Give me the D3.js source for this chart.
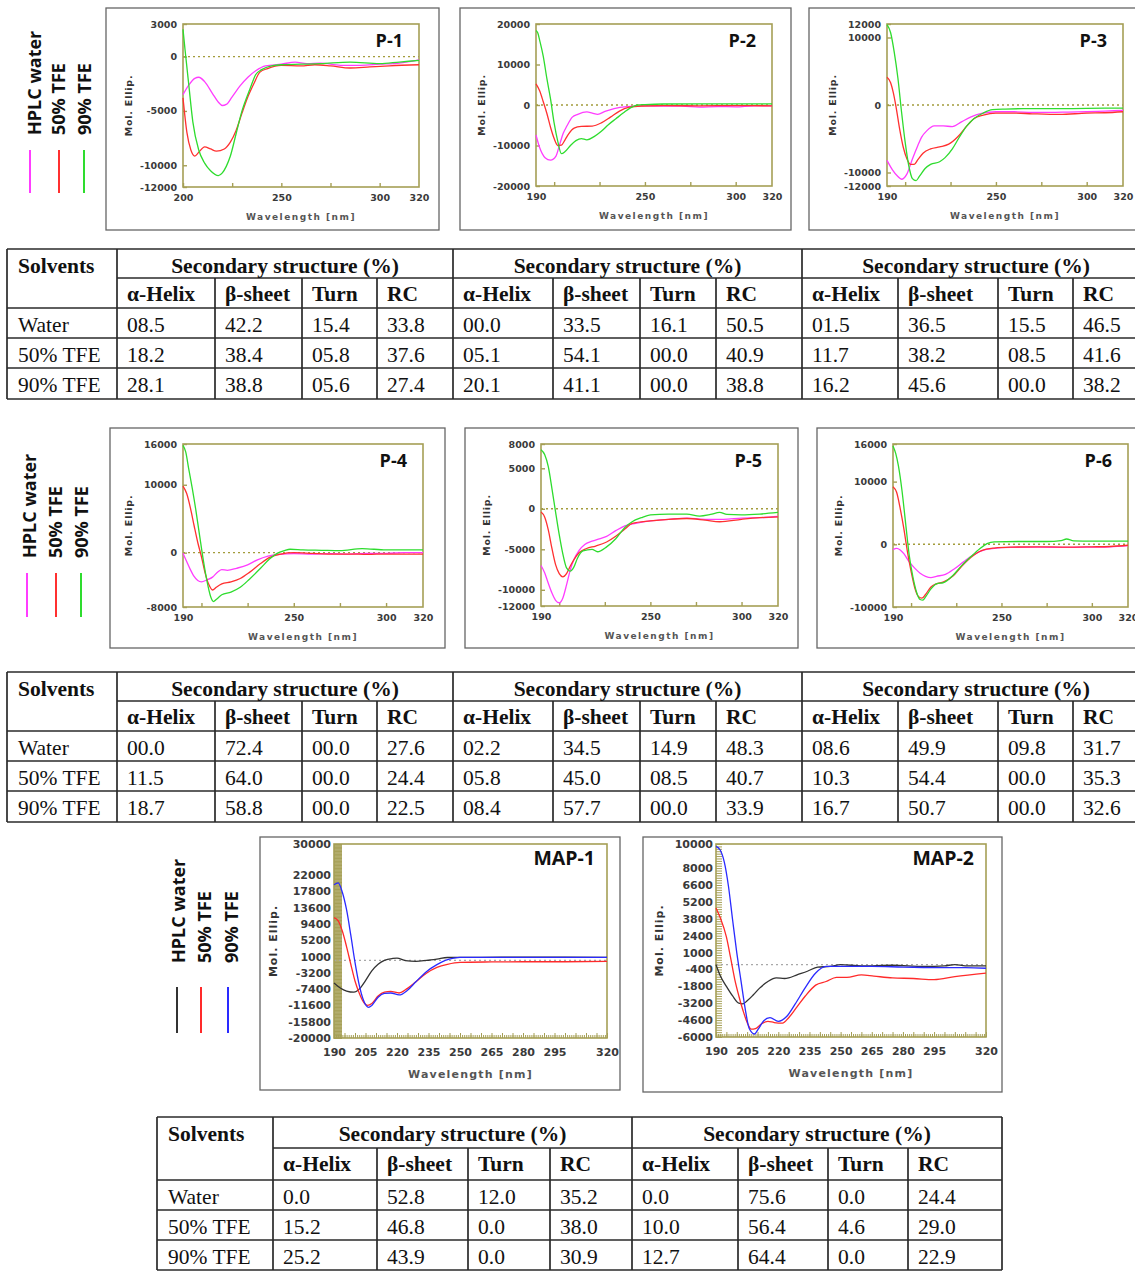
<!DOCTYPE html>
<html>
<head>
<meta charset="utf-8">
<script src="https://cdn.jsdelivr.net/npm/d3@7"></script>
<style>
  body { margin: 0; background: #fff; }
  svg { display: block; }
</style>
</head>
<body>
<script>
// ---- CD spectra, [wavelength nm, mol. ellipticity] ----
const p1Water = [[200,-3500],[203,-2600],[206,-2000],[208,-1900],[211,-2300],[215,-3400],[218,-4200],[220,-4500],[222,-4400],[225,-3700],[229,-2700],[233,-1900],[237,-1300],[242,-850],[250,-700],[257,-500],[263,-650],[270,-600],[280,-800],[290,-800],[300,-700],[310,-600],[320,-300]];
const p1Tfe50 = [[200,-3800],[202,-7000],[204,-8600],[206,-9150],[208,-8800],[211,-8300],[214,-8500],[217,-8700],[221,-8500],[224,-7900],[227,-6800],[230,-5200],[233,-3700],[236,-2500],[239,-1450],[243,-1100],[250,-800],[260,-850],[267,-750],[275,-850],[285,-1050],[295,-950],[305,-850],[320,-750]];
const p1Tfe90 = [[200,2500],[201,700],[203,-2700],[205,-6000],[208,-8600],[211,-9800],[214,-10500],[218,-10950],[220,-10700],[222,-10100],[224,-9200],[227,-7100],[230,-5000],[234,-3000],[237,-1650],[240,-1200],[245,-850],[250,-750],[260,-700],[270,-650],[285,-500],[300,-650],[310,-500],[320,-350]];

const p2Water = [[190,-7400],[192,-10500],[195,-13000],[198,-13600],[201,-12600],[203,-9800],[205,-7000],[207,-5200],[210,-3000],[213,-2300],[218,-1700],[221,-2000],[224,-2300],[228,-1600],[233,-900],[240,-400],[250,-200],[260,-300],[270,-300],[280,-500],[290,-400],[300,-450],[310,-200],[320,-200]];
const p2Tfe50 = [[190,5200],[192,3500],[194,800],[196,-2100],[198,-5500],[200,-8300],[202,-10000],[204,-9900],[206,-8600],[208,-7100],[211,-5700],[215,-5300],[221,-5200],[226,-4400],[231,-3000],[236,-1500],[241,-600],[248,-250],[260,-150],[280,-200],[300,-150],[320,-200]];
const p2Tfe90 = [[190,18400],[191,17800],[192,16000],[194,12000],[196,6500],[198,1500],[200,-4500],[202,-9000],[204,-12000],[206,-11500],[209,-10000],[212,-8800],[215,-8300],[218,-8600],[222,-7800],[226,-6500],[230,-4800],[234,-3400],[238,-2000],[242,-700],[246,0],[250,100],[260,250],[280,300],[300,300],[320,300]];

const p3Water = [[190,-8200],[193,-9600],[196,-10600],[198,-11000],[201,-10200],[204,-8000],[207,-6000],[209,-4800],[212,-3800],[216,-3100],[221,-3100],[226,-3200],[231,-2500],[236,-1800],[242,-1250],[250,-1000],[260,-1000],[270,-1100],[280,-1100],[290,-1050],[300,-1000],[310,-900],[320,-800]];
const p3Tfe50 = [[190,4100],[192,3300],[193.5,1800],[195,-300],[197,-3600],[199,-6300],[201,-8000],[203,-8800],[205,-8800],[207,-8100],[210,-7100],[214,-6500],[219,-6200],[224,-5800],[229,-4700],[234,-3100],[238,-2000],[243,-1500],[250,-1200],[260,-1200],[270,-1300],[285,-1400],[300,-1200],[310,-1150],[320,-1000]];
const p3Tfe90 = [[190,11900],[192,10700],[194,7800],[196,4000],[198,-1000],[200,-5500],[202,-9000],[204,-10900],[206,-11200],[208,-10500],[211,-9400],[214,-8800],[219,-8400],[222,-7800],[226,-6500],[230,-4700],[234,-3100],[238,-2000],[243,-1200],[248,-700],[255,-600],[265,-550],[280,-550],[300,-500],[320,-450]];

const p4Water = [[190,-100],[192,-1300],[194,-2500],[196,-3500],[198,-4100],[200,-4300],[203,-4000],[206,-3600],[209,-2800],[211,-2500],[214,-2600],[219,-2300],[225,-1800],[230,-1100],[236,-500],[242,-250],[250,-150],[260,-200],[270,-150],[280,-200],[290,-100],[300,-100],[310,0],[320,0]];
const p4Tfe50 = [[190,9800],[192,8700],[194,6600],[196,4000],[198,1500],[200,-600],[202,-3000],[204,-4700],[206,-5500],[208,-5100],[211,-4600],[216,-4300],[221,-3800],[226,-2900],[232,-1600],[237,-700],[243,-200],[250,0],[260,-100],[270,-200],[280,-200],[290,-250],[300,-200],[310,-200],[320,-200]];
const p4Tfe90 = [[190,15800],[191.5,14800],[193,12500],[195,9500],[197,6200],[199,2500],[201,-1100],[203,-4200],[205,-6500],[206.5,-7200],[208,-6900],[211,-6200],[216,-5800],[221,-5100],[226,-3900],[232,-2300],[237,-900],[241,-100],[245,300],[248,500],[255,400],[265,350],[275,300],[287,600],[300,400],[320,400]];

const p5Water = [[190,-7000],[192,-7900],[194,-9200],[196,-10400],[198,-11300],[200,-11600],[202,-11000],[204,-9400],[206,-7600],[208,-6300],[211,-5100],[214,-4400],[218,-4000],[222,-3700],[226,-3400],[231,-2700],[236,-2100],[242,-1800],[250,-1500],[260,-1300],[270,-1150],[280,-1300],[290,-1300],[300,-1150],[310,-1100],[320,-950]];
const p5Tfe50 = [[190,-400],[192,-1000],[194,-2600],[196,-4900],[198,-6900],[200,-8000],[202,-8400],[204,-8000],[206,-7100],[208,-6300],[211,-5400],[215,-4900],[220,-4600],[226,-4100],[231,-3400],[236,-2500],[240,-1800],[250,-1500],[260,-1300],[270,-1200],[280,-1400],[288,-1600],[300,-1300],[310,-1100],[320,-1000]];
const p5Tfe90 = [[190,7300],[192,6700],[194,5200],[196,2500],[198,-400],[200,-3200],[202,-5600],[204,-7300],[206,-7700],[208,-7200],[210,-6100],[213,-5200],[218,-5000],[221,-5300],[226,-4700],[231,-3700],[236,-2300],[240,-1600],[245,-1100],[250,-750],[260,-650],[270,-650],[277,-900],[283,-700],[288,-450],[292,-700],[300,-750],[310,-650],[320,-450]];

const p6Water = [[190,-850],[192,-650],[194,-900],[196,-1500],[199,-2800],[202,-3800],[205,-4600],[208,-5100],[211,-5300],[214,-5100],[219,-4800],[224,-3900],[229,-2800],[235,-1600],[241,-850],[246,-650],[255,-500],[270,-450],[285,-500],[300,-450],[310,-400],[320,-200]];
const p6Tfe50 = [[190,9200],[192,8300],[194,5700],[196,2500],[198,-1200],[200,-4300],[202,-6900],[204,-8300],[206,-8600],[208,-8000],[211,-6800],[214,-6300],[218,-6000],[223,-5100],[228,-3500],[233,-2100],[239,-1000],[246,-600],[255,-450],[270,-400],[285,-450],[300,-400],[310,-350],[320,-150]];
const p6Tfe90 = [[190,15700],[191.5,14500],[193,12500],[195,8500],[197,3300],[199,-1800],[201,-5200],[203,-7600],[205,-8800],[206.5,-8900],[208,-8400],[211,-7100],[214,-6300],[218,-6100],[223,-5000],[228,-3400],[233,-2000],[238,-700],[242,100],[246,400],[260,450],[275,450],[283,600],[286,850],[290,550],[300,500],[320,500]];

const map1Water = [[190,-5800],[193,-7100],[196,-7900],[199.5,-8200],[202,-7400],[205,-5200],[208,-2700],[211,-1000],[214,0],[218,500],[220,600],[224,-50],[229,-250],[234,0],[239,350],[244,750],[250,800],[260,800],[280,850],[300,850],[320,800]];
const map1Tfe50 = [[190,11000],[192,10200],[194,7500],[196,3500],[198,-1000],[200,-5300],[202,-8400],[204,-10700],[206,-11600],[208,-11100],[211,-9200],[214,-8200],[217,-8000],[221,-8400],[225,-7200],[229,-5500],[234,-3300],[239,-1800],[244,-1000],[250,-500],[265,-400],[280,-350],[300,-350],[320,-250]];
const map1Tfe90 = [[190,19500],[192,20000],[194,17500],[196,13000],[198,6500],[200,-500],[202,-6300],[204,-10200],[206.5,-12100],[208,-11600],[211,-9500],[214,-8500],[217,-8400],[221,-8900],[225,-7700],[229,-5500],[234,-2900],[239,-1100],[243,0],[247,600],[250,800],[265,800],[280,800],[300,800],[320,800]];

const map2Water = [[190,0],[192,-900],[195,-1800],[198,-2600],[201,-3200],[203,-3250],[205,-3000],[208,-2500],[211,-1950],[215,-1400],[219,-1100],[223,-1150],[225,-1100],[229,-850],[234,-550],[239,-200],[245,-150],[250,0],[260,-100],[275,-50],[290,-150],[300,-100],[305,0],[310,-100],[320,-100]];
const map2Tfe50 = [[190,4700],[192,3900],[195,2300],[197,600],[199,-1200],[201,-2600],[203,-3800],[205,-4800],[207,-5350],[209,-5300],[212,-4900],[215,-4700],[218,-4800],[222,-4850],[225,-4400],[229,-3500],[233,-2600],[238,-1700],[243,-1400],[248,-1050],[253,-1050],[260,-850],[266,-950],[275,-1100],[285,-1150],[295,-1250],[305,-1000],[320,-700]];
const map2Tfe90 = [[190,9800],[192,9500],[194,8500],[196,6500],[198,3700],[200,1000],[202,-1300],[204,-3600],[206,-5300],[208.5,-5750],[210.5,-5300],[213,-4650],[216,-4400],[220,-4700],[224,-4300],[228,-3300],[233,-1900],[238,-700],[243,-150],[250,-150],[265,-150],[280,-200],[300,-250],[310,-250],[320,-300]];

// ---- tick labels ----
const pTicksX1 = [200, 250, 300, 320];
const pTicksX = [190, 250, 300, 320];
const mapTicksX = [190, 205, 220, 235, 250, 265, 280, 295, 320];
const p1TicksY = [3000, 0, -5000, -10000, -12000];
const p2TicksY = [20000, 10000, 0, -10000, -20000];
const p3TicksY = [12000, 10000, 0, -10000, -12000];
const p4TicksY = [16000, 10000, 0, -8000];
const p5TicksY = [8000, 5000, 0, -5000, -10000, -12000];
const p6TicksY = [16000, 10000, 0, -10000];
const map1TicksY = [30000, 22000, 17800, 13600, 9400, 5200, 1000, -3200, -7400, -11600, -15800, -20000];
const map2TicksY = [10000, 8000, 6600, 5200, 3800, 2400, 1000, -400, -1800, -3200, -4600, -6000];

// ---- legend ----
const legendLabels = ['HPLC water', '50% TFE', '90% TFE'];
const pColors = ['#ff3cff', '#ff3030', '#2edc2e'];
const mapColors = ['#333333', '#ff2a2a', '#2a2aff'];

// ---- tables ----
const solvents = ['Water', '50% TFE', '90% TFE'];
const structHeads = ['α-Helix', 'β-sheet', 'Turn', 'RC'];
const groupTitle = 'Secondary structure (%)';
const tabP1 = [['08.5','42.2','15.4','33.8'],['18.2','38.4','05.8','37.6'],['28.1','38.8','05.6','27.4']];
const tabP2 = [['00.0','33.5','16.1','50.5'],['05.1','54.1','00.0','40.9'],['20.1','41.1','00.0','38.8']];
const tabP3 = [['01.5','36.5','15.5','46.5'],['11.7','38.2','08.5','41.6'],['16.2','45.6','00.0','38.2']];
const tabP4 = [['00.0','72.4','00.0','27.6'],['11.5','64.0','00.0','24.4'],['18.7','58.8','00.0','22.5']];
const tabP5 = [['02.2','34.5','14.9','48.3'],['05.8','45.0','08.5','40.7'],['08.4','57.7','00.0','33.9']];
const tabP6 = [['08.6','49.9','09.8','31.7'],['10.3','54.4','00.0','35.3'],['16.7','50.7','00.0','32.6']];
const tabMap1 = [['0.0','52.8','12.0','35.2'],['15.2','46.8','0.0','38.0'],['25.2','43.9','0.0','30.9']];
const tabMap2 = [['0.0','75.6','0.0','24.4'],['10.0','56.4','4.6','29.0'],['12.7','64.4','0.0','22.9']];

const W = 1135, H = 1272;
const olive = '#a59f55';
const svg = d3.select('body').append('svg').attr('width', W).attr('height', H);
svg.append('rect').attr('width', W).attr('height', H).attr('fill', '#fff');

function drawPanel(p) {
  const g = svg.append('g');
  const [bx1, by1, bx2, by2] = p.box;
  const [px1, py1, px2, py2] = p.plot;
  g.append('rect')
    .attr('x', bx1).attr('y', by1).attr('width', bx2 - bx1).attr('height', by2 - by1)
    .attr('fill', '#fff').attr('stroke', '#666').attr('stroke-width', 1.3);

  const x = d3.scaleLinear().domain(p.xDomain).range([px1, px2]);
  const y = d3.scaleLinear().domain(p.yDomain).range([py2, py1]);
  const fs = p.big ? 11 : 9.5;

  // inward ticks
  if (p.big) {
    g.append('g').attr('transform', `translate(0,${py2})`)
      .call(d3.axisBottom(x).tickValues(d3.range(190, 321, 1)).tickFormat('').tickSizeInner(-3).tickSizeOuter(0))
      .call(a => a.select('.domain').remove())
      .selectAll('line').attr('stroke', olive);
    g.append('g').attr('transform', `translate(0,${py2})`)
      .call(d3.axisBottom(x).tickValues(d3.range(190, 321, 5)).tickFormat('').tickSizeInner(-5).tickSizeOuter(0))
      .call(a => a.select('.domain').remove())
      .selectAll('line').attr('stroke', olive);
    g.append('g').attr('transform', `translate(${px1},0)`)
      .call(d3.axisLeft(y).tickValues(d3.range(p.yDomain[0], p.yDomain[1] + 1, 200)).tickFormat('').tickSizeInner(-p.leftTick).tickSizeOuter(0))
      .call(a => a.select('.domain').remove())
      .selectAll('line').attr('stroke', olive).attr('stroke-width', 1);
  } else {
    g.append('g').attr('transform', `translate(0,${py2})`)
      .call(d3.axisBottom(x).tickValues([200, 225, 250, 275, 300]).tickFormat('').tickSizeInner(-4).tickSizeOuter(0))
      .call(a => a.select('.domain').remove())
      .selectAll('line').attr('stroke', olive).attr('stroke-width', 1.4);
    g.append('g').attr('transform', `translate(${px1},0)`)
      .call(d3.axisLeft(y).tickValues(p.yTicks).tickFormat('').tickSizeInner(-4).tickSizeOuter(0))
      .call(a => a.select('.domain').remove())
      .selectAll('line').attr('stroke', olive).attr('stroke-width', 1.4);
  }

  // zero reference
  g.append('line')
    .attr('x1', px1).attr('x2', px2).attr('y1', y(0)).attr('y2', y(0))
    .attr('stroke', p.big ? '#a8a8a8' : '#a39c3c').attr('stroke-width', 1.4)
    .attr('stroke-dasharray', '2,3');

  // frame
  g.append('rect')
    .attr('x', px1).attr('y', py1).attr('width', px2 - px1).attr('height', py2 - py1)
    .attr('fill', 'none').attr('stroke', olive).attr('stroke-width', 1.6);

  // spectra
  const line = d3.line().x(d => x(d[0])).y(d => y(d[1])).curve(d3.curveMonotoneX);
  p.series.forEach((s, i) => {
    g.append('path').datum(s)
      .attr('d', line).attr('fill', 'none')
      .attr('stroke', p.colors[i]).attr('stroke-width', 1.3);
  });

  // tick labels
  const yAx = g.append('g').attr('transform', `translate(${px1 - (p.big ? 3 : 6)},0)`)
    .call(d3.axisLeft(y).tickValues(p.yTicks).tickFormat(d => String(d)).tickSize(0).tickPadding(0));
  yAx.select('.domain').remove();
  const xAx = g.append('g').attr('transform', `translate(0,${py2 + (p.big ? 10 : 7)})`)
    .call(d3.axisBottom(x).tickValues(p.xTicks).tickFormat(d => String(d)).tickSize(0).tickPadding(0));
  xAx.select('.domain').remove();
  g.selectAll('.tick text')
    .attr('font-family', 'DejaVu Sans').attr('font-weight', 'bold')
    .attr('font-size', fs).attr('fill', '#3a3a3a');

  // axis titles
  g.append('text')
    .attr('x', (px1 + px2) / 2).attr('y', py2 + (p.big ? 40 : 33))
    .attr('text-anchor', 'middle')
    .attr('font-family', 'DejaVu Sans').attr('font-weight', 'bold')
    .attr('font-size', p.big ? 11 : 9).attr('letter-spacing', p.big ? 1.2 : 1.5)
    .attr('fill', '#555').text('Wavelength [nm]');
  g.append('text')
    .attr('transform', `translate(${px1 - p.yLabelOff},${(py1 + py2) / 2}) rotate(-90)`)
    .attr('text-anchor', 'middle')
    .attr('font-family', 'DejaVu Sans').attr('font-weight', 'bold')
    .attr('font-size', p.big ? 11 : 9.5).attr('letter-spacing', p.big ? 1 : 0.8)
    .attr('fill', '#333').text('Mol. Ellip.');

  // panel name
  g.append('text')
    .attr('x', px2 - (p.big ? 12 : 16)).attr('y', py1 + (p.big ? 21 : 23))
    .attr('text-anchor', 'end')
    .attr('font-family', 'Open Sans').attr('font-weight', 'bold')
    .attr('font-size', p.big ? 19.5 : 18).attr('fill', '#111').text(p.name);
}

function drawLegend(baseXs, textBottom, lineXs, lineY1, lineY2, colors) {
  const g = svg.append('g');
  legendLabels.forEach((lab, i) => {
    g.append('text')
      .attr('transform', `translate(${baseXs[i]},${textBottom}) rotate(-90)`)
      .attr('font-family', 'Open Sans').attr('font-weight', 'bold')
      .attr('font-size', 18).attr('fill', '#111').text(lab);
    g.append('line')
      .attr('x1', lineXs[i]).attr('x2', lineXs[i]).attr('y1', lineY1).attr('y2', lineY2)
      .attr('stroke', colors[i]).attr('stroke-width', 2);
  });
}

function drawTable(cols, rows, groups) {
  const g = svg.append('g');
  const left = cols[0], right = cols[cols.length - 1], top = rows[0], bottom = rows[rows.length - 1];
  const ln = (x1, y1, x2, y2) => g.append('line')
    .attr('x1', x1).attr('y1', y1).attr('x2', x2).attr('y2', y2)
    .attr('stroke', '#2a2a2a').attr('stroke-width', 1.7);
  ln(left, top, right, top);
  ln(left, bottom, right, bottom);
  ln(cols[1], rows[1], right, rows[1]);
  for (let r = 2; r < rows.length - 1; r++) ln(left, rows[r], right, rows[r]);
  cols.forEach((cx, i) => {
    const full = i === 0 || i === cols.length - 1 || (i - 1) % 4 === 0;
    ln(cx, full ? top : rows[1], cx, bottom);
  });
  const txt = (x, yy, s, bold, anchor) => g.append('text')
    .attr('x', x).attr('y', yy).attr('text-anchor', anchor || 'start')
    .attr('font-family', 'Liberation Serif').attr('font-size', 21.5)
    .attr('font-weight', bold ? 'bold' : 'normal').attr('fill', '#111').text(s);
  txt(left + 11, top + 24, 'Solvents', true);
  solvents.forEach((s, r) => txt(left + 11, rows[r + 2] + 24, s));
  groups.forEach((data, gi) => {
    const c0 = 1 + gi * 4;
    txt((cols[c0] + cols[c0 + 4]) / 2, top + 24, groupTitle, true, 'middle');
    structHeads.forEach((h, j) => txt(cols[c0 + j] + 10, rows[1] + 23, h, true));
    data.forEach((row, r) => row.forEach((v, j) => txt(cols[c0 + j] + 10, rows[r + 2] + 24, v)));
  });
}

// ---- panels ----
const pSmall = { big: false, colors: pColors, yLabelOff: 51 };
drawPanel({ ...pSmall, name: 'P-1', box: [106, 8, 439, 230], plot: [183, 24, 419, 187], xDomain: [200, 320], yDomain: [-12000, 3000], xTicks: pTicksX1, yTicks: p1TicksY, series: [p1Water, p1Tfe50, p1Tfe90] });
drawPanel({ ...pSmall, name: 'P-2', box: [460, 8, 791, 230], plot: [536, 24, 772, 186], xDomain: [190, 320], yDomain: [-20000, 20000], xTicks: pTicksX, yTicks: p2TicksY, series: [p2Water, p2Tfe50, p2Tfe90] });
drawPanel({ ...pSmall, name: 'P-3', box: [809, 8, 1145, 230], plot: [887, 24, 1123, 186], xDomain: [190, 320], yDomain: [-12000, 12000], xTicks: pTicksX, yTicks: p3TicksY, series: [p3Water, p3Tfe50, p3Tfe90] });
drawPanel({ ...pSmall, name: 'P-4', box: [110, 428, 445, 648], plot: [183, 444, 423, 607], xDomain: [190, 320], yDomain: [-8000, 16000], xTicks: pTicksX, yTicks: p4TicksY, series: [p4Water, p4Tfe50, p4Tfe90] });
drawPanel({ ...pSmall, name: 'P-5', box: [465, 428, 798, 648], plot: [541, 444, 778, 606], xDomain: [190, 320], yDomain: [-12000, 8000], xTicks: pTicksX, yTicks: p5TicksY, series: [p5Water, p5Tfe50, p5Tfe90] });
drawPanel({ ...pSmall, name: 'P-6', box: [817, 428, 1145, 648], plot: [893, 444, 1128, 607], xDomain: [190, 320], yDomain: [-10000, 16000], xTicks: pTicksX, yTicks: p6TicksY, series: [p6Water, p6Tfe50, p6Tfe90] });
drawPanel({ big: true, colors: mapColors, yLabelOff: 57, leftTick: 8, name: 'MAP-1', box: [260, 837, 620, 1090], plot: [334, 844, 607, 1038], xDomain: [190, 320], yDomain: [-20000, 30000], xTicks: mapTicksX, yTicks: map1TicksY, series: [map1Water, map1Tfe50, map1Tfe90] });
drawPanel({ big: true, colors: mapColors, yLabelOff: 53, leftTick: 6, name: 'MAP-2', box: [643, 837, 1002, 1092], plot: [716, 844, 986, 1037], xDomain: [190, 320], yDomain: [-6000, 10000], xTicks: mapTicksX, yTicks: map2TicksY, series: [map2Water, map2Tfe50, map2Tfe90] });

// ---- legends ----
drawLegend([41, 65, 91], 135, [30, 59, 84], 150, 193, pColors);
drawLegend([36, 62, 88], 558, [27, 56, 81], 573, 617, pColors);
drawLegend([185, 211, 238], 963, [177, 201, 228], 987, 1033, mapColors);

// ---- tables ----
const colsTop = [7, 117, 215, 302, 377, 453, 553, 640, 716, 802, 898, 998, 1073, 1150];
drawTable(colsTop, [249, 278, 308, 338, 368, 399], [tabP1, tabP2, tabP3]);
drawTable(colsTop, [672, 701, 731, 761, 791, 822], [tabP4, tabP5, tabP6]);
drawTable([157, 273, 377, 468, 550, 632, 738, 828, 908, 1002], [1117, 1148, 1180, 1210, 1240, 1270], [tabMap1, tabMap2]);
</script>
</body>
</html>
